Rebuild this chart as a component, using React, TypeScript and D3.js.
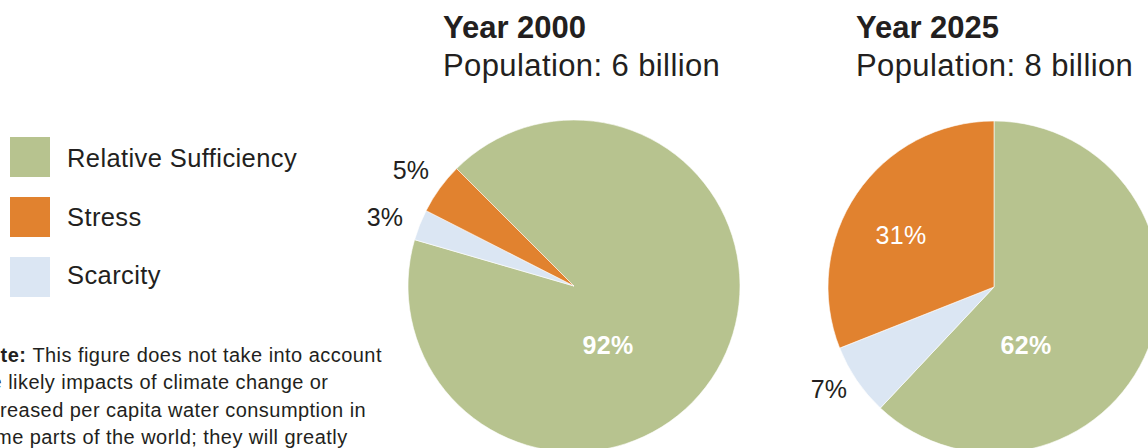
import React from "react";
import * as d3 from "d3";

const categories = ["Relative Sufficiency", "Stress", "Scarcity"];
const colors = ["#b7c38f", "#e1822f", "#dbe6f3"];

const years = ["Year 2000", "Year 2025"];
const populations = ["Population: 6 billion", "Population: 8 billion"];
// values per category: [sufficiency, stress, scarcity]
const values2000 = [92, 5, 3];
const values2025 = [62, 31, 7];
// slice order drawn clockwise: sufficiency, scarcity, stress
const sliceOrder = [0, 2, 1];
const startAnglesDeg = [-45, 0];

const noteLines = [
  [{ t: "Note: ", b: true }, { t: "This figure does not take into account", b: false }],
  [{ t: "the likely impacts of climate change or", b: false }],
  [{ t: "increased per capita water consumption in", b: false }],
  [{ t: "some parts of the world; they will greatly", b: false }],
];

const FONT = "'Liberation Sans', Arial, Helvetica, sans-serif";
const INK = "#231f20";

// label layout relative to each pie center (baseline positions)
const labelLayout = [
  [
    { c: 0, dx: 34, dy: 68, fill: "#fff", bold: true },
    { c: 1, dx: -163, dy: -107, fill: INK, bold: false },
    { c: 2, dx: -189, dy: -60, fill: INK, bold: false },
  ],
  [
    { c: 0, dx: 32, dy: 67, fill: "#fff", bold: true },
    { c: 1, dx: -93, dy: -43, fill: "#fff", bold: false },
    { c: 2, dx: -165, dy: 111, fill: INK, bold: false },
  ],
];

export default function App() {
  const W = 1148;
  const H = 448;
  const R = 166;
  const centers = [
    { x: 574, y: 286 },
    { x: 994, y: 287 },
  ];
  const titleX = [443, 856];
  const datasets = [values2000, values2025];
  const arc = d3.arc<d3.PieArcDatum<number>>().innerRadius(0).outerRadius(R);

  return (
    <svg
      width={W}
      height={H}
      style={{ position: "absolute", left: 0, top: 0, display: "block", background: "#fff" }}
      fontFamily={FONT}
    >
      {/* Legend */}
      {categories.map((c, i) => (
        <g key={c}>
          <rect x={10} y={137 + i * 60} width={40} height={40} fill={colors[i]} />
          <text x={67} y={167 + i * 58.5} fontSize={25.5} fill={INK} letterSpacing={0.4}>
            {c}
          </text>
        </g>
      ))}

      {/* Note */}
      {noteLines.map((line, i) => (
        <text key={i} x={-27} y={362 + i * 27.3} fontSize={20} fill={INK} letterSpacing={0.45}>
          {line.map((s, j) => (
            <tspan key={j} fontWeight={s.b ? "bold" : "normal"}>
              {s.t}
            </tspan>
          ))}
        </text>
      ))}

      {/* Pies */}
      {datasets.map((vals, k) => {
        const ordered = sliceOrder.map((ci) => ({ ci, v: vals[ci] }));
        const start = (startAnglesDeg[k] * Math.PI) / 180;
        const pie = d3
          .pie<{ ci: number; v: number }>()
          .sort(null)
          .value((d) => d.v)
          .startAngle(start)
          .endAngle(start + 2 * Math.PI);
        const arcs = pie(ordered);
        const cx = centers[k].x;
        const cy = centers[k].y;
        return (
          <g key={k}>
            <text x={titleX[k]} y={37.5} fontSize={31} fontWeight="bold" fill={INK}>
              {years[k]}
            </text>
            <text x={titleX[k]} y={76} fontSize={31} fill={INK} letterSpacing={0.4}>
              {populations[k]}
            </text>
            <g transform={`translate(${cx}, ${cy})`}>
              {arcs.map((a) => (
                <path
                  key={a.data.ci}
                  d={arc(a as any) || ""}
                  fill={colors[a.data.ci]}
                  stroke="#fff"
                  strokeWidth={0.6}
                />
              ))}
              {labelLayout[k].map((l) => (
                <text
                  key={l.c}
                  x={l.dx}
                  y={l.dy}
                  textAnchor="middle"
                  fontSize={25}
                  fontWeight={l.bold ? "bold" : "normal"}
                  fill={l.fill}
                  letterSpacing={0.3}
                >
                  {`${vals[l.c]}%`}
                </text>
              ))}
            </g>
          </g>
        );
      })}
    </svg>
  );
}
